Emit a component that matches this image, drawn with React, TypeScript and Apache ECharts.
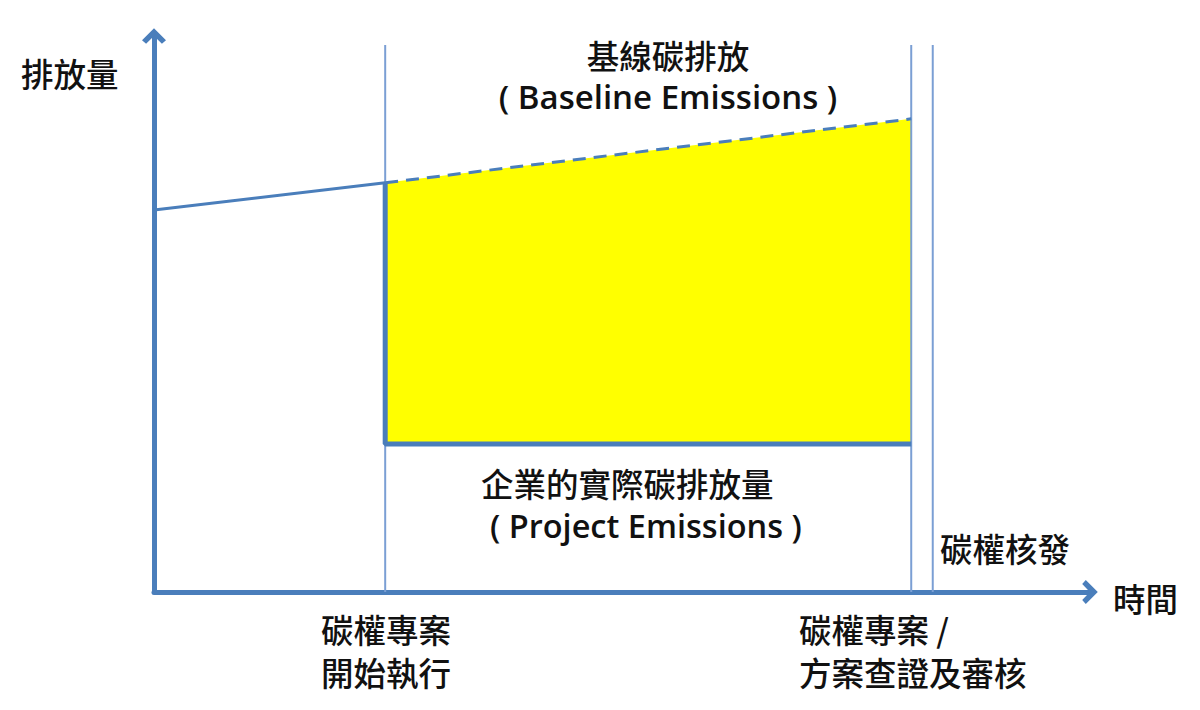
import React, { useEffect, useRef } from "react";
import * as echarts from "echarts";

// Time axis (arbitrary units) and emission levels
const projectStartX = 24.7;
const verificationX = 80.9;
const issuanceX = 83.2;
const verticalTop = 98.4;

const baselineSolid = [
  [0, 68.7],
  [projectStartX, 73.6],
];
const baselineDashed = [
  [projectStartX, 73.6],
  [verificationX, 85.1],
];
const projectLevel = 26.6;
const projectLine = [
  [projectStartX, 73.6],
  [projectStartX, projectLevel],
  [verificationX, projectLevel],
];
const reductionArea = [[projectStartX, 73.6, verificationX, 85.1, projectLevel]];
const verticalMarks = [projectStartX, verificationX, issuanceX];

const FONT = '"Noto Sans CJK TC", "Noto Sans", sans-serif';
const LATIN = '"Open Sans", "Noto Sans CJK TC", sans-serif';
const BLUE = "#4a7ebb";
const THIN = "#7b9fd4";
const ARROW = "path://M10,0 L20,10 L16.6,13 L10,6.6 L3.4,13 L0,10 Z";

export default function App() {
  const ref = useRef<HTMLDivElement>(null);
  useEffect(() => {
    if (!ref.current) return;
    const chart = echarts.init(ref.current, undefined, { renderer: "svg" });
    const txt = (
      text: string,
      x: number,
      y: number,
      align: string = "left",
      size = 32.5,
      family = FONT,
      weight: number = 500
    ) => ({
      type: "text",
      x,
      y,
      style: {
        text,
        fill: "#111",
        fontSize: size,
        fontFamily: family,
        fontWeight: weight,
        lineHeight: 34,
        align,
        verticalAlign: "middle",
      },
      z: 100,
    });
    const axisCommon = {
      type: "value",
      min: 0,
      max: 100,
      splitLine: { show: false },
      axisTick: { show: false },
      axisLabel: { show: false },
      axisLine: {
        show: true,
        onZero: false,
        symbol: ["none", ARROW],
        symbolSize: [24, 16],
        lineStyle: { color: BLUE, width: 5 },
      },
    };
    chart.setOption({
      animation: false,
      backgroundColor: "#fff",
      grid: { left: 154, top: 36, right: 110, bottom: 118 },
      xAxis: axisCommon,
      yAxis: axisCommon,
      series: [
        {
          type: "custom",
          data: reductionArea,
          encode: { x: [0, 2], y: [1, 3, 4] },
          z: 1,
          renderItem: (params: any, api: any) => {
            const pts = [
              api.coord([api.value(0), api.value(1)]),
              api.coord([api.value(2), api.value(3)]),
              api.coord([api.value(2), api.value(4)]),
              api.coord([api.value(0), api.value(4)]),
            ];
            return { type: "polygon", shape: { points: pts }, style: { fill: "#ffff00" } };
          },
        },
        ...verticalMarks.map((x) => ({
          type: "line",
          data: [
            [x, 0],
            [x, verticalTop],
          ],
          showSymbol: false,
          silent: true,
          z: 2,
          lineStyle: { color: THIN, width: 2 },
        })),
        {
          type: "line",
          data: projectLine,
          showSymbol: false,
          z: 3,
          lineStyle: { color: BLUE, width: 5 },
        },
        {
          type: "line",
          data: baselineSolid,
          showSymbol: false,
          z: 3,
          lineStyle: { color: BLUE, width: 3 },
        },
        {
          type: "line",
          data: baselineDashed,
          showSymbol: false,
          z: 3,
          lineStyle: { color: BLUE, width: 3, type: [13, 8] },
        },
      ],
      graphic: [
        txt("排放量", 21, 72),
        txt("時間", 1113, 597),
        txt("基線碳排放", 668, 54, "center"),
        txt("( Baseline Emissions )", 668, 96, "center", 33, LATIN, 600),
        txt("企業的實際碳排放量", 481, 482),
        txt("( Project Emissions )", 490, 525, "left", 32.5, LATIN, 600),
        txt("碳權核發", 940, 547),
        txt("碳權專案", 321, 628),
        txt("開始執行", 321, 671),
        txt("碳權專案 /", 799, 628),
        txt("方案查證及審核", 799, 671),
      ],
    });
    return () => chart.dispose();
  }, []);
  return (
    <div
      ref={ref}
      style={{ position: "fixed", left: 0, top: 0, width: 1200, height: 710, background: "#fff" }}
    />
  );
}
